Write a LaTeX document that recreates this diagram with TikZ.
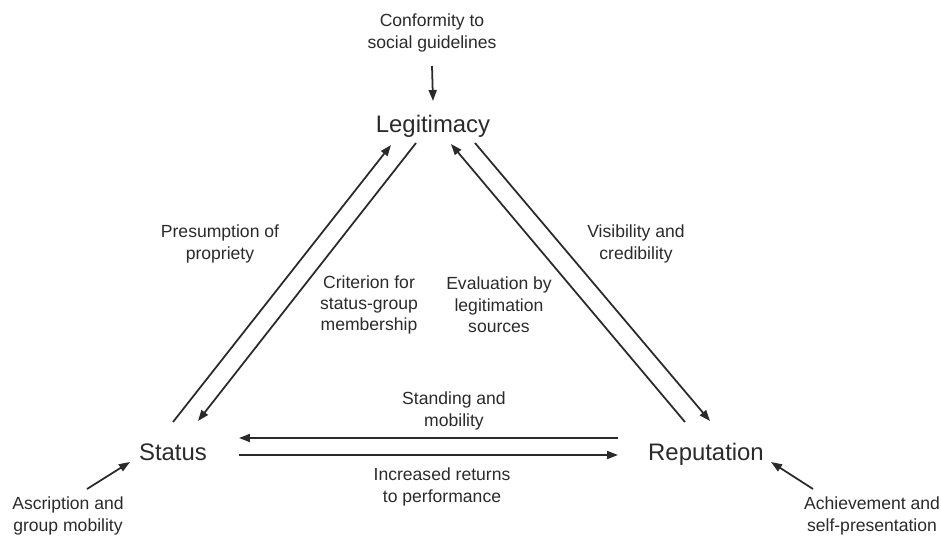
\documentclass[tikz,border=0pt]{standalone}
\usepackage{fontspec}
\setmainfont{Liberation Sans}
\usetikzlibrary{arrows.meta}

\definecolor{ink}{HTML}{2A2A2A}

\tikzset{
  corner/.style={font=\fontsize{13.6}{16}\selectfont, text=ink, inner sep=0pt,
    text height=0.95em, text depth=0.23em},
  note/.style={font=\fontsize{10}{12.2}\selectfont, align=center, text=ink, inner sep=0pt},
  link/.style={-{Triangle[length=2.2mm,width=1.6mm]}, line width=1pt, draw=ink}
}

\begin{document}
\begin{tikzpicture}[x=0.02cm, y=-0.02cm]
    \useasboundingbox (0,0) rectangle (941,535);

    % Corner concepts
    \node[corner] (leg) at (433,126) {Legitimacy};
    \node[corner] (stat) at (173,454) {Status};
    \node[corner] (rep) at (706,454) {Reputation};

    % Outside sources
    \node[note] (conf) at (432,33) {Conformity to\\social guidelines};
    \node[note] (ascr) at (68,516) {Ascription and\\group mobility};
    \node[note] (achv) at (872,516) {Achievement and\\self-presentation};

    % Edge labels
    \node[note] (presum) at (220,244) {Presumption of\\propriety};
    \node[note] (visib) at (636,244) {Visibility and\\credibility};
    \node[note] (crit) at (369,305) {Criterion for\\status-group\\membership};
    \node[note] (evalu) at (499,305) {Evaluation by\\legitimation\\sources};
    \node[note] (stand) at (454,411) {Standing and\\mobility};
    \node[note] (retur) at (442,487) {Increased returns\\to performance};

    \draw[link] ([shift={(0,33)}]conf.center) to ([shift={(0,-25)}]leg.center);
    \draw[link] ([shift={(19,-27)}]ascr.center) to ([shift={(-43,8)}]stat.center);
    \draw[link] ([shift={(-59,-27)}]achv.center) to ([shift={(65,8)}]rep.center);

    % Status <-> Legitimacy
    \draw[link] ([shift={(0,-32)}]stat.center) to ([shift={(-42,19)}]leg.center);
    \draw[link] ([shift={(-17,17)}]leg.center) to ([shift={(25,-33)}]stat.center);

    % Reputation <-> Legitimacy
    \draw[link] ([shift={(-21,-32)}]rep.center) to ([shift={(18,18)}]leg.center);
    \draw[link] ([shift={(42,17)}]leg.center) to ([shift={(4,-33)}]rep.center);

    % Reputation <-> Status
    \draw[link] ([shift={(-88,-16)}]rep.center) to ([shift={(66,-16)}]stat.center);
    \draw[link] ([shift={(66,1)}]stat.center) to ([shift={(-88,1)}]rep.center);
\end{tikzpicture}
\end{document}
